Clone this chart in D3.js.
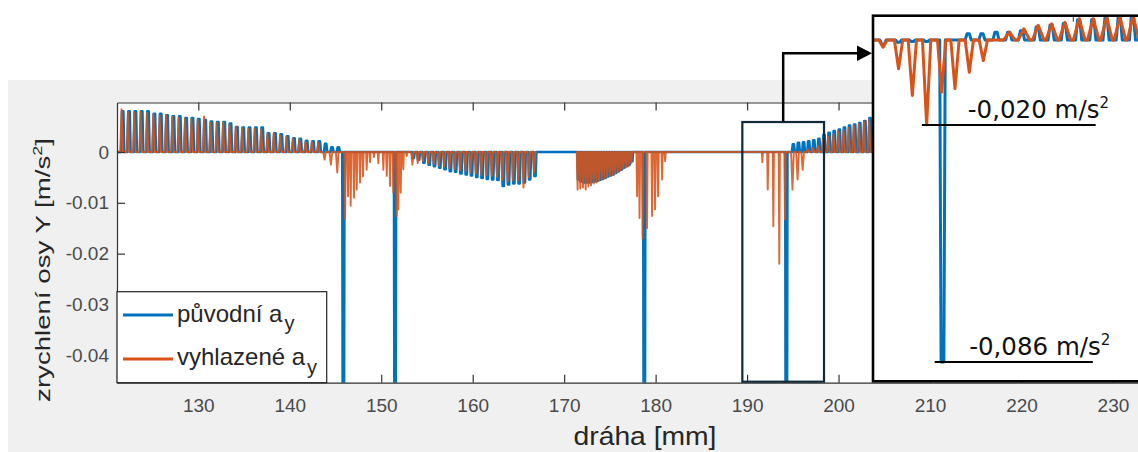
<!DOCTYPE html>
<html><head><meta charset="utf-8">
<script src="https://cdn.jsdelivr.net/npm/d3@7"></script>
<style>body{margin:0;background:#fff}svg{display:block}</style>
</head><body>
<svg id="c" width="1138" height="452"></svg>
<script>
// ---------------- DATA ----------------
const xDomain = [121.11, 232.74];
const yDomain = [-0.0454, 0.00974];
const xTicks = [130,140,150,160,170,180,190,200,210,220,230];
const yTicks = [0,-0.01,-0.02,-0.03,-0.04];
const yTickLabels = ["0","-0.01","-0.02","-0.03","-0.04"];
const xAxisLabel = "dráha [mm]";
const yAxisLabelParts = ["zrychlení osy Y [m/s","2","]"];
const legendLabels = ["původní a","vyhlazené a"];
const legendSub = "y";

// evenly sampled tooth segments [start mm, end mm]
const segA = [121.73, 145.31];
const segC = [153.51, 166.81];
const segD = [171.55, 177.42];
const segG = [195.06, 203.44];

const blueA = [0.0080,0.0080,0.0080,0.0080,0.0080,0.0075,0.0075,0.0072,0.0070,0.0070,0.0067,0.0067,0.0065,0.0063,0.0060,0.0059,0.0059,0.0056,0.0049,0.0048,0.0048,0.0048,0.0048,0.0037,0.0037,0.0035,0.0031,0.0027,0.0026,0.0022,0.0021,0.0021,0.0016,0.0009,0.0009];
const orangeA = [0.0084,0.0079,0.0078,0.0079,0.0077,0.0074,0.0072,0.0073,0.0069,0.0068,0.0066,0.0065,0.0064,0.0070,0.0058,0.0057,0.0058,0.0054,0.0050,0.0047,0.0046,0.0047,0.0045,0.0036,0.0038,0.0033,0.0030,0.0026,0.0025,0.0021,0.0020,0.0019,-0.0015,-0.0025,-0.0040];
const blueC = [-0.0012,-0.0015,-0.0021,-0.0025,-0.0028,-0.0031,-0.0034,-0.0038,-0.0039,-0.0042,-0.0044,-0.0046,-0.0049,-0.0051,-0.0053,-0.0054,-0.0055,-0.0067,-0.0064,-0.0062,-0.0062,-0.0060,-0.0054,-0.0047];
const orangeC = [-0.0025,-0.0022,-0.0018,-0.0022,-0.0024,-0.0027,-0.0029,-0.0032,-0.0034,-0.0036,-0.0038,-0.0040,-0.0043,-0.0045,-0.0046,-0.0047,-0.0049,-0.0055,-0.0058,-0.0056,-0.0055,-0.0070,-0.0050,-0.0040];
const blueD = [-0.0054,-0.0058,-0.0060,-0.0060,-0.0060,-0.0059,-0.0058,-0.0057,-0.0055,-0.0053,-0.0051,-0.0048,-0.0046,-0.0044,-0.0041,-0.0038,-0.0035,-0.0031,-0.0028,-0.0025,-0.0018];
const orangeD = [-0.0074,-0.0072,-0.0070,-0.0074,-0.0068,-0.0066,-0.0062,-0.0060,-0.0056,-0.0054,-0.0052,-0.0049,-0.0047,-0.0045,-0.0042,-0.0040,-0.0036,-0.0033,-0.0030,-0.0028,-0.0022];
const blueG = [0.0015,0.0018,0.0019,0.0021,0.0023,0.0026,0.0034,0.0038,0.0041,0.0044,0.0048,0.0052,0.0054,0.0057,0.0061,0.0067];
const orangeG = [-0.0074,-0.0054,-0.0035,0.0005,0.0008,0.0012,0.0025,0.0030,0.0035,0.0040,0.0044,0.0048,0.0052,0.0055,0.0060,0.0064];

// isolated spikes
const blueSpikeX = [145.86, 151.51, 178.76, 194.29];
const blueSpikeV = [-0.07, -0.07, -0.07, -0.086];
const orangeSpikeX = [146.05,146.37,146.66,147.02,147.32,147.68,148.01,148.41,148.77,149.21,149.68,150.23,150.6,150.96,151.32,151.69,151.87,152.13,152.41,152.79,177.97,178.24,178.57,179.06,179.61,179.94,180.27,180.71,181.04,191.67,192.26,192.87,193.52,194.14];
const orangeSpikeV = [-0.0132,-0.0087,-0.0106,-0.009,-0.0074,-0.006,-0.0048,-0.0035,-0.002,-0.001,-0.0022,-0.0035,-0.0047,-0.0067,-0.008,-0.0126,-0.0113,-0.008,-0.0034,-0.0008,-0.0087,-0.013,-0.017,-0.015,-0.0126,-0.0113,-0.0087,-0.0054,-0.0018,-0.002,-0.0074,-0.0146,-0.022,-0.0133];
const orangeGap = [167.0, 171.3];

// rectangle of the zoomed region (mm / m/s^2)
const zoomX = [189.48, 198.41];
const zoomTop = 0.0059;

// inset (sample index units)
const insetOrangeX = [0,1.12,2.11,3.14,4.22,5.18,6.21,7.22,8.2,9.09,10.14,11.17,12.14,13.09,14.12,15.13,16.09,17.05,18.0];
const insetOrange = [-0.0019,-0.0077,-0.0148,-0.0227,-0.0139,-0.013,-0.0086,-0.0055,0,0.0021,0.003,0.0039,0.0043,0.0047,0.0057,0.0057,0.0061,0.0061,0.0065];
const insetBlueX = [0,1.12,2.11,3.14,4.28,5.18,6.13,7.12,8.13,9.05,9.97,11.1,12.1,13.05,14.08,15.1,16.05,17.0,17.95];
const insetBlue = [-0.0012,-0.0006,-0.0004,-0.0004,-0.086,0,0.0017,0.0017,0.0021,0.0021,0.0025,0.0035,0.0040,0.0044,0.0054,0.0055,0.0059,0.0060,0.0063];
const insetDomainX = [-0.72, 18.35];
const insetDomainY = [-0.0863, 0.0066];
const annoText = ["-0,020 m/s", "-0,086 m/s"];
const annoSup = "2";
const annoLineX = [[2.8, 15.3], [3.72, 15.1]];
const annoTextX = [6.1, 6.2];

// ---------------- DRAW ----------------
const W = 1138, H = 452;
const BLUE = "#0072BD", ORANGE = "#D95319";
const svg = d3.select("#c");
const P = {l:117, r:1138, t:102.5, b:382.7};
const x = d3.scaleLinear().domain(xDomain).range([P.l, P.r]);
const y = d3.scaleLinear().domain(yDomain).range([P.b, P.t]);

svg.append("rect").attr("x",8).attr("y",80).attr("width",W-8).attr("height",H-80).attr("fill","#f0f0f0");
svg.append("rect").attr("x",P.l).attr("y",P.t).attr("width",P.r-P.l).attr("height",P.b-P.t).attr("fill","#fff");

const defs = svg.append("defs");
defs.append("clipPath").attr("id","pc").append("rect")
  .attr("x",P.l).attr("y",P.t).attr("width",P.r-P.l).attr("height",P.b-P.t);

function seg(range, vals, off){
  const n = vals.length;
  return vals.map((v,i)=>({c: range[0] + i*(range[1]-range[0])/(n-1) + off, v}));
}
function rectPulse(t, hw){ return [[t.c-hw,0],[t.c-hw*0.45,t.v],[t.c+hw*0.45,t.v],[t.c+hw,0]]; }
function triPulse(t, hw){ return [[t.c-hw,0],[t.c,t.v],[t.c+hw,0]]; }

// blue series
let bt = [].concat(
  seg(segA, blueA, 0).map(t=>rectPulse(t,0.17)),
  seg(segC, blueC, 0).map(t=>rectPulse(t,0.15)),
  seg(segD, blueD, 0).map(t=>rectPulse(t,0.1)),
  seg(segG, blueG, 0).map(t=>rectPulse(t,0.15)),
  blueSpikeX.map((c,i)=>rectPulse({c, v:blueSpikeV[i]},0.12))
).sort((a,b)=>a[0][0]-b[0][0]);
const bluePts = [[xDomain[0],0]].concat(...bt, [[xDomain[1],0]]);

// orange series
let ot = [].concat(
  seg(segA, orangeA, -0.12).map(t=>triPulse(t,0.15)),
  seg(segC, orangeC, -0.1).map(t=>triPulse(t,0.14)),
  seg(segD, orangeD, -0.08).map(t=>triPulse(t,0.1)),
  seg(segG, orangeG, -0.1).map(t=>triPulse(t,0.15)),
  orangeSpikeX.map((c,i)=>triPulse({c, v:orangeSpikeV[i]},0.07)),
  [[[orangeGap[0],0],[orangeGap[0],NaN],[orangeGap[1],0]]]
).sort((a,b)=>a[0][0]-b[0][0]);
const orangePts = [[xDomain[0],0]].concat(...ot, [[xDomain[1],0]]);

const line = d3.line().defined(d=>!isNaN(d[1])).x(d=>x(d[0])).y(d=>y(d[1]));
const g = svg.append("g").attr("clip-path","url(#pc)");
g.append("path").attr("d", line(bluePts)).attr("fill","none").attr("stroke",BLUE)
  .attr("stroke-width",2.6).attr("stroke-linejoin","round");
g.append("path").attr("d", line(orangePts)).attr("fill","none").attr("stroke",ORANGE)
  .attr("stroke-width",1.9).attr("stroke-linejoin","round").attr("stroke-opacity",0.88);

// axes
const axCol = "#333";
const fontT = "'Liberation Sans', Arial, sans-serif";
const bx = svg.append("g").attr("transform",`translate(0,${P.b})`)
  .call(d3.axisBottom(x).tickValues(xTicks).tickSize(-8).tickSizeOuter(0).tickPadding(15.5).tickFormat(d3.format("d")));
const tx = svg.append("g").attr("transform",`translate(0,${P.t})`)
  .call(d3.axisTop(x).tickValues(xTicks).tickSize(-8).tickSizeOuter(0).tickFormat(""));
const ly = svg.append("g").attr("transform",`translate(${P.l},0)`)
  .call(d3.axisLeft(y).tickValues(yTicks).tickSize(-8).tickSizeOuter(0).tickPadding(8).tickFormat((d,i)=>yTickLabels[i]));
[bx,tx,ly].forEach(a=>{
  a.selectAll("path,line").attr("stroke",axCol).attr("stroke-width",1.2);
  a.selectAll("text").attr("fill","#4a4a4a").attr("font-family",fontT).attr("font-size",19);
});

// axis labels
const xl = svg.append("text").attr("x",645).attr("y",445).attr("text-anchor","middle")
  .attr("font-family",fontT).attr("font-size",25).attr("fill","#262626").text(xAxisLabel);
{ const L = xl.node().getComputedTextLength(); const k = 143/L;
  xl.attr("x",0).attr("y",0).attr("transform",`translate(645,445) scale(${k},1)`); }
const yl = svg.append("text").attr("text-anchor","middle")
  .attr("font-family",fontT).attr("font-size",20).attr("fill","#262626");
yl.append("tspan").text(yAxisLabelParts[0]);
yl.append("tspan").attr("dy",-8).attr("font-size",13).text(yAxisLabelParts[1]);
yl.append("tspan").attr("dy",8).text(yAxisLabelParts[2]);
{ const L = yl.node().getComputedTextLength(); const k = 264/L;
  yl.attr("transform",`translate(50,270) rotate(-90) scale(${k},1)`); }

// legend
const lg = svg.append("g");
lg.append("rect").attr("x",P.l).attr("y",291.7).attr("width",326.7-P.l).attr("height",P.b-291.7)
  .attr("fill","#fff").attr("stroke","#222").attr("stroke-width",1.2);
[[BLUE,315,321.7],[ORANGE,359,365]].forEach((d,i)=>{
  lg.append("line").attr("x1",123).attr("x2",173).attr("y1",d[1]).attr("y2",d[1])
    .attr("stroke",d[0]).attr("stroke-width",3.2);
  const t = lg.append("text").attr("x",177).attr("y",d[2]).attr("font-family",fontT)
    .attr("font-size",24).attr("fill","#262626");
  t.append("tspan").text(legendLabels[i]);
  t.append("tspan").attr("dy",8.5).attr("dx",2).attr("font-size",20).text(legendSub);
});

// zoom rectangle + arrow
const rx0 = x(zoomX[0]), rx1 = x(zoomX[1]), ry0 = y(zoomTop);
svg.append("rect").attr("x",rx0).attr("y",ry0).attr("width",rx1-rx0).attr("height",P.b-1-ry0)
  .attr("fill","none").attr("stroke","#0f2a38").attr("stroke-width",2.2);
const midX = (rx0+rx1)/2;
svg.append("path").attr("d",`M${midX},${ry0} V53.3 H859`).attr("fill","none")
  .attr("stroke","#000").attr("stroke-width",2.5);
svg.append("path").attr("d",`M857,45.5 L872,53.3 L857,61.1 Z`).attr("fill","#000");

// inset
const I = {l:873, r:1138, t:15.7, b:381.3};
const xi = d3.scaleLinear().domain(insetDomainX).range([I.l, I.r]);
const yi = d3.scaleLinear().domain(insetDomainY).range([362+(-0.0863+0.086)*(-3744), 15.3]);
svg.append("rect").attr("x",I.l).attr("y",I.t).attr("width",I.r-I.l+10).attr("height",I.b-I.t)
  .attr("fill","#fff");
defs.append("clipPath").attr("id","ic").append("rect")
  .attr("x",I.l).attr("y",I.t).attr("width",I.r-I.l+10).attr("height",I.b-I.t);
const ig = svg.append("g").attr("clip-path","url(#ic)");
const iline = d3.line().x(d=>xi(d[0])).y(d=>yi(d[1]));
const ib = [[insetDomainX[0],0]].concat(...insetBlueX.map((c,i)=>{
  const v = insetBlue[i];
  return v < -0.02 ? [[c-0.2,0],[c-0.1,v],[c+0.1,v],[c+0.2,0]] : [[c-0.22,0],[c-0.08,v],[c+0.08,v],[c+0.22,0]];
}), [[insetDomainX[1]+1,0]]);
const io = [[insetDomainX[0],0]].concat(...insetOrangeX.map((c,i)=>{
  const v = insetOrange[i], hw = v > 0 ? 0.42 : 0.3;
  return [[c-hw,0],[c,v],[c+hw,0]];
}), [[insetDomainX[1]+1,0]]);
ig.append("path").attr("d",iline(ib)).attr("fill","none").attr("stroke",BLUE)
  .attr("stroke-width",3).attr("stroke-linejoin","round");
ig.append("path").attr("d",iline(io)).attr("fill","none").attr("stroke",ORANGE)
  .attr("stroke-width",3).attr("stroke-linejoin","round");
// tiny tick of inset axis
svg.append("line").attr("x1",1073.3).attr("x2",1073.3).attr("y1",I.t).attr("y2",I.t+6)
  .attr("stroke","#333").attr("stroke-width",1);
svg.append("rect").attr("x",I.l).attr("y",I.t).attr("width",I.r-I.l+10).attr("height",I.b-I.t)
  .attr("fill","none").attr("stroke","#000").attr("stroke-width",2.6);

// annotations
const annoVals = [d3.min(insetOrange), d3.min(insetBlue)];
annoVals.forEach((v,i)=>{
  const yy = yi(v);
  svg.append("line").attr("x1",xi(annoLineX[i][0])).attr("x2",xi(annoLineX[i][1]))
    .attr("y1",yy).attr("y2",yy).attr("stroke","#000").attr("stroke-width",2.2);
  const t = svg.append("text").attr("x",xi(annoTextX[i])).attr("y",yy-7)
    .attr("font-family","'DejaVu Sans', sans-serif").attr("font-size",24.5).attr("fill","#111");
  t.append("tspan").text(annoText[i]);
  t.append("tspan").attr("dy",-10).attr("font-size",15).text(annoSup);
});
</script>
</body></html>
